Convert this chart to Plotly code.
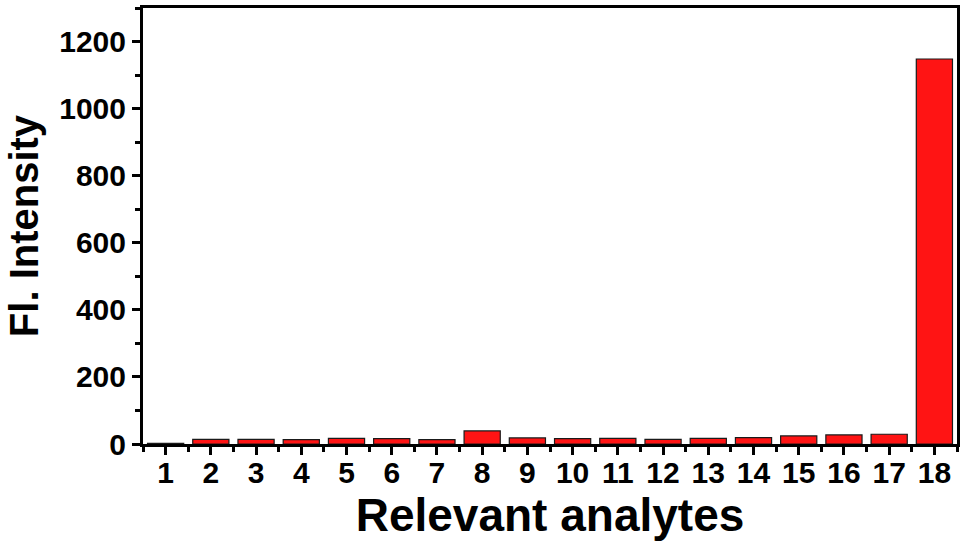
"""Fl. Intensity of relevant analytes, bar chart."""
import plotly.graph_objects as go

analytes = list(range(1, 19))
intensity = [2, 14, 14, 13, 17, 16, 13, 39, 18, 16, 17, 14, 17, 19, 24, 27, 29, 1148]

y_ticks = [0, 200, 400, 600, 800, 1000, 1200]

FONT = "Liberation Sans, Arial, sans-serif"

fig = go.Figure(
    go.Bar(
        x=analytes, y=intensity, width=0.8,
        marker=dict(color="#ff1414", line=dict(color="#1a1a1a", width=1.2)),
        showlegend=False,
    )
)

axis_common = dict(
    showline=True, linecolor="black", linewidth=3, mirror=True,
    ticks="outside", tickwidth=3, tickcolor="black", ticklen=8,
    showgrid=False, zeroline=False,
    tickfont=dict(family=FONT, size=30, color="black", weight="bold"),
)

fig.update_xaxes(
    **axis_common,
    range=[0.5, 18.5], tickvals=analytes,
    ticklabelstandoff=-8,
    minor=dict(ticks="outside", ticklen=5, tickwidth=3, tickcolor="black",
               tick0=0.5, dtick=1),
    title=dict(text="Relevant analytes", standoff=4,
               font=dict(family=FONT, size=46, color="black", weight="bold")),
)
fig.update_yaxes(
    **axis_common,
    range=[0, 1300], tickvals=y_ticks,
    minor=dict(ticks="outside", ticklen=5, tickwidth=3, tickcolor="black",
               tick0=100, dtick=200),
    title=dict(text="Fl. Intensity", standoff=9,
               font=dict(family=FONT, size=40, color="black", weight="bold")),
)

fig.update_layout(
    width=965, height=549,
    margin=dict(l=143, r=7, t=5, b=105),
    plot_bgcolor="white", paper_bgcolor="white",
)

# drop the browser's default body margin so the figure sits at the page corner
fig.write_html("out.html", config={"displayModeBar": False},
               post_script="document.body.style.margin='0px';")
